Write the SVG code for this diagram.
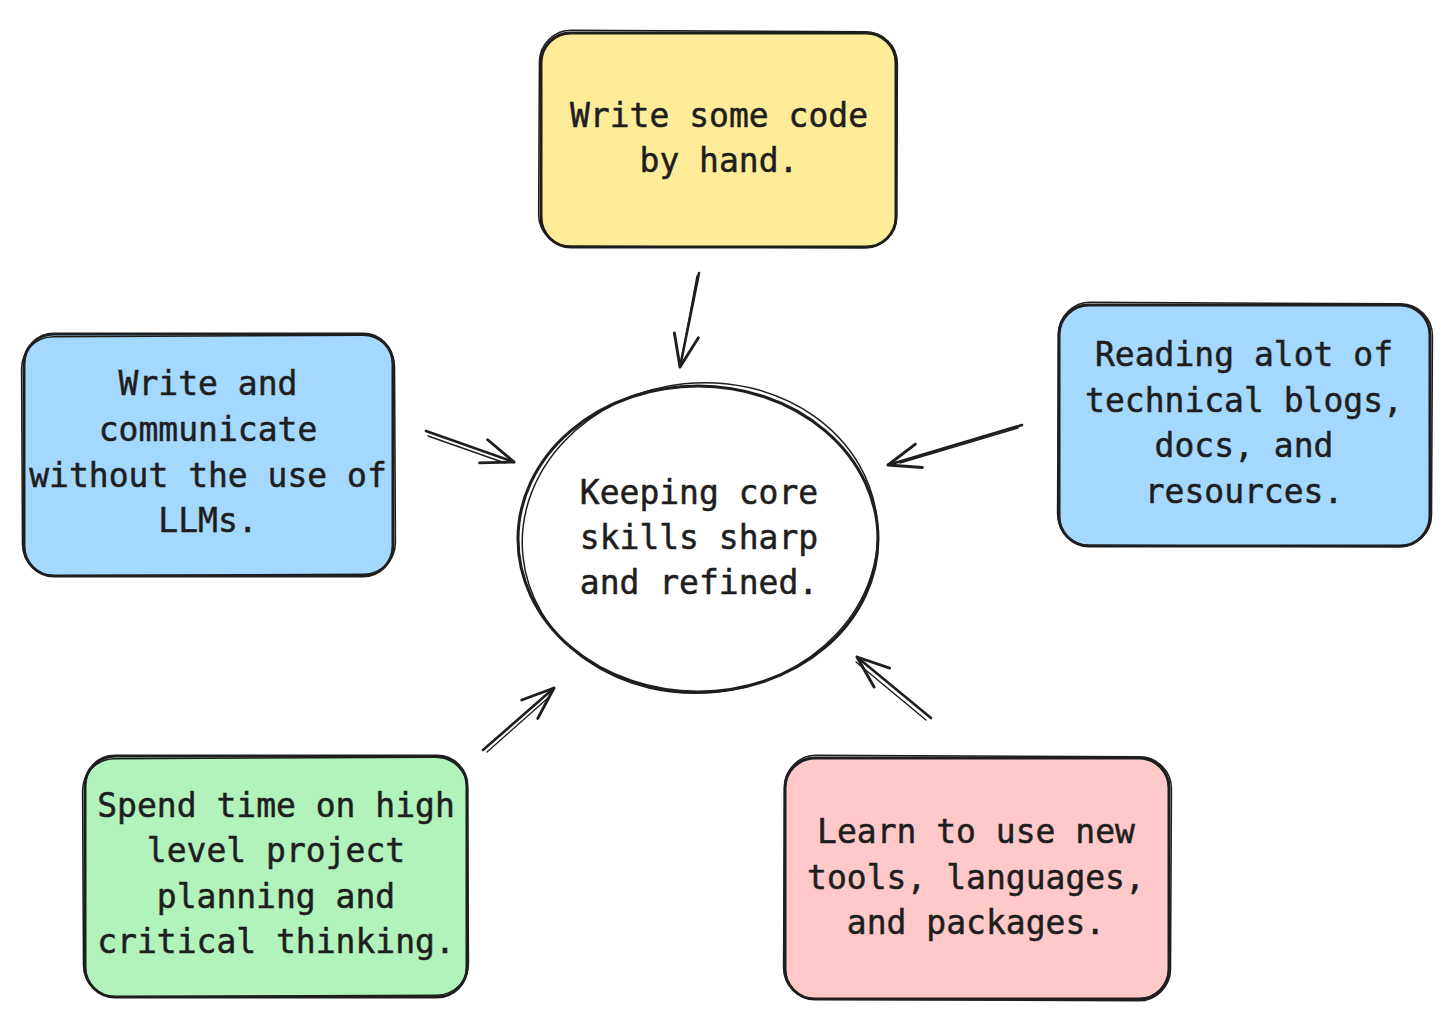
<svg xmlns="http://www.w3.org/2000/svg" width="1456" height="1029" viewBox="0 0 1456 1029">
<defs>
<style>
.box{stroke:#1e1e1e;stroke-width:3;stroke-linejoin:round}
.sk{fill:none;stroke:#1e1e1e;stroke-width:1.5;stroke-linecap:round}
.lbl{font-family:"DejaVu Sans Mono","Liberation Mono",monospace;font-size:33px;fill:#1e1e1e;stroke:#1e1e1e;stroke-width:0.5;text-anchor:middle}
.ar{fill:none;stroke:#1e1e1e;stroke-width:2.6;stroke-linecap:round;stroke-linejoin:round}
.ar2{fill:none;stroke:#1e1e1e;stroke-width:1.4;stroke-linecap:round}
</style>
<marker id="head" markerUnits="userSpaceOnUse" markerWidth="40" markerHeight="40" viewBox="-32 -16 36 32" refX="0" refY="0" orient="auto">
<path d="M -29 -11 L 0 0 L -29 11" fill="none" stroke="#1e1e1e" stroke-width="2.6" stroke-linecap="round" stroke-linejoin="round"/>
</marker>
</defs>
<rect width="1456" height="1029" fill="#ffffff"/>

<g id="connectors">
<line class="ar" x1="699" y1="273" x2="680" y2="367" marker-end="url(#head)"/>
<line class="ar2" x1="697" y1="276" x2="683" y2="352"/>
<line class="ar" x1="426" y1="431" x2="514" y2="462" marker-end="url(#head)"/>
<line class="ar2" x1="428" y1="436" x2="505" y2="463"/>
<line class="ar" x1="1022" y1="425" x2="888" y2="465" marker-end="url(#head)"/>
<line class="ar2" x1="1018" y1="428" x2="900" y2="463"/>
<line class="ar" x1="483" y1="750" x2="554" y2="688" marker-end="url(#head)"/>
<line class="ar2" x1="487" y1="752" x2="548" y2="698"/>
<line class="ar" x1="931" y1="718" x2="857" y2="657" marker-end="url(#head)"/>
<line class="ar2" x1="926" y1="720" x2="856" y2="662"/>
</g>

<g id="center">
<ellipse class="box" cx="698" cy="539" rx="180" ry="153" fill="#ffffff"/>
<ellipse class="sk" cx="700" cy="538" rx="178" ry="155" transform="rotate(-6 700 538)"/>
<text class="lbl" x="699" y="504">Keeping core</text>
<text class="lbl" x="699" y="549">skills sharp</text>
<text class="lbl" x="699" y="594">and refined.</text>
</g>

<g id="top">
<rect class="box" x="541" y="33" width="355" height="214" rx="30" fill="#ffec99"/>
<rect class="sk" x="539" y="31" width="358" height="216" rx="32" transform="rotate(0.3 719 140)"/>
<text class="lbl" x="719" y="127">Write some code</text>
<text class="lbl" x="719" y="172">by hand.</text>
</g>

<g id="left">
<rect class="box" x="24" y="334" width="369" height="242" rx="30" fill="#a5d8ff"/>
<rect class="sk" x="22" y="336" width="373" height="239" rx="32" transform="rotate(-0.3 208 455)"/>
<text class="lbl" x="208" y="395">Write and</text>
<text class="lbl" x="208" y="441">communicate</text>
<text class="lbl" x="208" y="487">without the use of</text>
<text class="lbl" x="208" y="532">LLMs.</text>
</g>

<g id="right">
<rect class="box" x="1059" y="305" width="371" height="241" rx="30" fill="#a5d8ff"/>
<rect class="sk" x="1058" y="303" width="374" height="243" rx="32" transform="rotate(0.3 1244 425)"/>
<text class="lbl" x="1244" y="366">Reading alot of</text>
<text class="lbl" x="1244" y="412">technical blogs,</text>
<text class="lbl" x="1244" y="457">docs, and</text>
<text class="lbl" x="1244" y="503">resources.</text>
</g>

<g id="bottom-left">
<rect class="box" x="85" y="756" width="382" height="241" rx="30" fill="#b2f2bb"/>
<rect class="sk" x="83" y="758" width="385" height="238" rx="32" transform="rotate(-0.3 276 876)"/>
<text class="lbl" x="276" y="817">Spend time on high</text>
<text class="lbl" x="276" y="862">level project</text>
<text class="lbl" x="276" y="908">planning and</text>
<text class="lbl" x="276" y="953">critical thinking.</text>
</g>

<g id="bottom-right">
<rect class="box" x="785" y="758" width="384" height="241" rx="30" fill="#ffc9c9"/>
<rect class="sk" x="784" y="756" width="387" height="244" rx="32" transform="rotate(0.3 977 878)"/>
<text class="lbl" x="976" y="843">Learn to use new</text>
<text class="lbl" x="976" y="889">tools, languages,</text>
<text class="lbl" x="976" y="934">and packages.</text>
</g>
</svg>
